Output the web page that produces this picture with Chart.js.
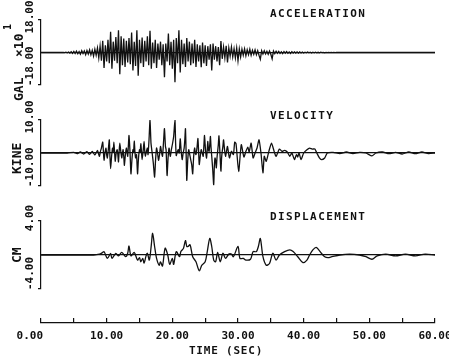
<!DOCTYPE html>
<html><head><meta charset="utf-8">
<script src="https://cdn.jsdelivr.net/npm/chart.js@4.4.0/dist/chart.umd.min.js"></script>
<style>
html,body{margin:0;padding:0;background:#fff;}
#wrap{position:relative;width:449px;height:363px;overflow:hidden;}
canvas{position:absolute;left:0;top:0;}
</style></head><body>
<div id="wrap">
<canvas id="cAcc" width="449" height="363"></canvas>
<canvas id="cVel" width="449" height="363"></canvas>
<canvas id="cDis" width="449" height="363"></canvas>
<canvas id="cAxis" width="449" height="363"></canvas>
</div>
<script>
// ---------- shared time axis ----------
const timeMin = 0, timeMax = 60;
const timeTickValues = [0,5,10,15,20,25,30,35,40,45,50,55,60];
const timeLabelValues = [0,10,20,30,40,50,60];
const timeLabels = ['0.00','10.00','20.00','30.00','40.00','50.00','60.00'];
const timeTitle = 'TIME (SEC)';

// ---------- acceleration (GAL x10^1), sampled every 0.2 s from 0 to 60 s ----------
const accStart = 0, accStep = 0.2;
const accValues = [
  0,0,0,0,0, 0,0,0,0,0, 0,0,0,0,0, 0,0,0.1,-0.1,0.2, -0.2,0.3,-0.3,0.4,-0.5,
  0.6,-0.5,0.8,-0.7,0.5, -0.9,1.0,-0.6,0.9,-1.2, 1.1,-0.8,1.5,-1.3,1.2, -2.0,1.8,-1.5,2.5,-3.0, 3.5,-4.5,6.5,-8.6,4.0,
  -5.0,7.0,-6.0,11.5,-9.0, 6.0,-4.5,8.5,-6.0,12.3, -12.0,9.0,-7.0,7.7,-8.0, 6.5,-5.5,8.0,-6.5,11.0, -10.0,6.0,-7.5,12.3,-12.8,
  7.0,-6.0,8.3,-8.0,6.5, -5.0,9.0,-7.0,12.0,-9.0, 5.5,-6.0,7.0,-8.5,5.0, -4.0,6.0,-7.0,4.5,-13.7, 5.0,-5.0,10.5,-7.0,6.0,
  -9.0,7.0,-16.5,8.0,-6.0, 12.3,-11.0,7.0,-6.5,5.0, -8.0,8.0,-5.0,6.0,-7.0, 5.0,-6.0,7.0,-8.0,4.5, -5.0,4.0,-8.2,5.5,-6.0,
  4.0,-7.5,3.5,-4.0,4.5, -10.0,5.0,-4.0,3.5,-5.0, 3.0,-7.0,6.4,-3.5,3.0, -3.0,3.7,-5.5,2.5,-2.0, 3.0,-2.5,2.0,-3.0,2.5,
  -4.5,2.0,-2.5,1.8,-1.5, 2.0,-1.8,1.5,-1.2,1.8, -1.5,1.2,-1.0,1.5,-1.2, 1.0,-1.5,-3.7,1.0,-0.8, 1.0,-0.8,0.7,-1.0,0.8,
  -1.0,-3.5,0.8,-0.6,0.7, -0.5,0.6,-0.5,0.4,-0.6, 0.5,-0.4,0.5,-0.4,0.3, -0.5,0.4,-0.3,0.4,-0.3, 0.3,-0.4,0.3,-0.3,0.2,
  -0.3,0.2,-0.2,0.3,-0.2, 0.2,-0.3,0.2,-0.2,0.2, -0.2,0.1,-0.2,0.2,-0.1, 0.1,-0.2,0.1,-0.1,0.1, -0.1,0.1,-0.1,0.1,-0.1,
  0,0,0,0,0, 0,0,0,0,0, 0,0,0,0,0, 0,0,0,0,0, 0,0,0,0,0,
  0,0,0,0,0, 0,0,0,0,0, 0,0,0,0,0, 0,0,0,0,0, 0,0,0,0,0,
  0,0,0,0,0, 0,0,0,0,0, 0,0,0,0,0, 0,0,0,0,0, 0,0,0,0,0,
  0
];
const accTicks = [-18, 0, 18];
const accLabelValues = [-18, 18];
const accLabelText = ['-18.00', '18.00'];
const accTitle = 'ACCELERATION';

// ---------- velocity (KINE) ----------
const velTime = [0,4,5,5.5,6,6.5,7,7.4,7.8,8.2,
  8.6,8.8,8.9,9.05,9.2,9.4,9.5,9.6,9.75,9.9,10.0,10.1,10.25,10.4,10.5,10.6,10.75,10.9,11.0,11.1,
  11.2,11.3,11.45,11.6,11.7,11.8,11.9,12.0,12.15,12.3,12.4,12.5,12.6,12.7,12.85,13.0,13.1,13.2,13.3,13.4,
  13.55,13.7,13.85,14.0,14.1,14.2,14.3,14.4,14.55,14.7,14.85,15.0,15.1,15.2,15.3,15.4,15.55,15.7,15.8,15.9,
  16.05,16.2,16.3,16.45,16.6,16.75,16.9,17.1,17.3,17.45,17.6,17.75,17.9,18.05,18.2,18.35,18.5,18.65,18.8,18.95,
  19.05,19.2,19.35,19.5,19.6,19.7,19.85,20.0,20.2,20.4,20.5,20.6,20.75,20.9,21.05,21.2,21.35,21.5,21.65,21.8,
  21.9,22.0,22.1,22.2,22.35,22.5,22.65,22.8,22.95,23.1,23.25,23.4,23.5,23.6,23.75,23.9,24.0,24.1,24.25,24.4,
  24.55,24.7,24.8,24.9,25.05,25.2,25.3,25.4,25.5,25.6,25.7,25.8,25.9,26.0,26.15,26.3,26.4,26.5,26.6,26.7,
  26.8,26.9,27.0,27.1,27.25,27.4,27.5,27.6,27.7,27.8,27.95,28.1,28.25,28.4,
  28.7,29.0,29.3,29.5,29.7,30.1,30.5,30.9,31.2,31.5,31.7,
  32.0,32.3,32.6,32.9,33.2,33.5,33.8,34.0,34.3,34.7,35.1,35.5,35.8,36.3,36.7,37.1,37.5,37.9,38.2,38.6,
  38.9,39.1,39.3,39.6,40.0,40.5,40.9,41.3,41.7,42.0,42.4,42.7,43.2,43.6,44.5,45.5,46.5,47.5,48.5,49.5,
  50.4,51.0,52.0,53.0,54.0,55.0,56.0,57.0,58.0,59.0,60.0];
const velValues = [0,0,0.2,-0.2,0.3,-0.3,0.4,-0.4,0.5,-0.6,
  0.8,-0.5,-1.0,0.5,1.5,3.3,0.5,-2.2,0.2,1.5,-0.5,-1.5,1.0,4.0,-1.0,-4.7,-1.0,1.5,0.5,3.3,
  0.5,-2.5,0.0,1.0,-0.5,-2.7,0.5,3.0,0.5,-1.5,0.0,1.0,-1.0,-3.7,-0.5,1.5,0.3,-1.0,2.0,5.3,
  0.5,-6.3,-2.0,1.0,0.3,3.6,0.5,-1.5,-0.5,-6.3,-1.5,1.0,0.3,2.8,0.5,-2.0,0.5,3.5,0.5,-1.0,
  0.5,1.5,-0.5,4.0,9.9,3.0,0.5,-3.0,-7.3,-2.0,1.5,0.0,-2.2,-0.5,2.0,0.3,-1.0,3.0,7.4,2.0,
  1.0,-6.8,-1.5,1.5,0.0,-1.0,1.0,2.5,5.0,10.0,3.0,-0.8,0.3,1.0,0.0,4.3,0.5,-2.0,0.0,1.5,
  4.0,7.4,0.0,-8.3,-2.0,1.0,-0.5,-2.0,-3.5,-6.3,-1.0,1.5,0.0,-0.5,1.5,4.4,0.5,-3.5,-1.0,1.0,
  0.0,-1.0,2.0,5.3,1.0,-1.5,0.5,3.5,1.0,0.5,2.5,5.0,1.5,-1.0,-5.0,-9.6,-4.0,-1.5,-2.5,-4.5,
  -1.5,0.5,2.5,5.2,0.0,-5.5,-1.5,0.5,2.0,4.0,1.0,-1.0,0.5,2.0,
  -1.5,0.5,-0.5,3.3,2.8,-5.6,2.5,-1.2,0.5,1.8,0.3,
  3.0,-1.5,0.0,1.5,4.0,0.0,-6.0,-1.0,-2.5,0.5,3.0,0.5,-1.0,1.2,0.5,0.8,0.3,-1.0,0.0,-2.0,
  -0.5,-1.2,0.0,-2.0,0.0,1.0,1.5,1.2,1.2,0.0,-1.5,-2.0,-1.5,0.0,0.2,-0.2,0.3,-0.2,0.2,0.0,
  -0.9,0.0,0.3,-0.2,0.2,-0.3,0.3,-0.2,0.3,-0.2,0.0];
const velTicks = [-10, 0, 10];
const velLabelValues = [-10, 10];
const velLabelText = ['-10.00', '10.00'];
const velTitle = 'VELOCITY';

// ---------- displacement (CM) ----------
const disTime = [0,5,8,8.9,9.3,9.6,10.1,10.6,10.8,11.4,11.8,12.3,12.9,13.2,13.4,13.7,14.2,14.7,15.0,15.2,
  15.5,15.7,16.0,16.2,16.5,16.8,17.0,17.3,17.6,18.0,18.2,18.5,18.9,19.3,19.6,20.0,20.2,20.6,21.1,21.3,
  21.7,22.0,22.2,22.4,22.7,23.1,23.6,24.1,24.5,25.0,25.3,25.7,26.0,26.3,26.6,26.9,27.3,27.7,28.1,28.6,
  29.0,29.3,30.0,30.3,30.8,31.2,31.9,32.3,32.8,33.1,33.4,33.8,34.3,34.8,35.3,35.8,36.3,37.1,37.9,38.4,
  39.1,39.9,40.5,40.9,41.4,41.9,42.3,42.7,43.2,43.7,44.3,45.5,47.0,48.5,49.5,50.4,51.2,52.5,54.0,55.5,
  57.0,58.5,60.0];
const disValues = [0,0,0,0.1,0.25,0.4,-0.4,0.2,-0.4,0.2,-0.1,0.3,-0.2,0.2,1.05,-0.1,0.3,-0.6,-0.3,-0.8,
  -0.4,-0.95,-0.1,0.2,-0.6,1.2,2.55,1.0,-0.4,-1.2,-0.8,-1.3,0.8,0.0,-1.1,-0.4,-1.1,0.4,-0.2,0.4,
  0.8,1.7,1.0,1.0,1.2,-0.2,-0.8,-1.85,-1.2,-0.8,0.3,1.95,1.0,-0.6,-0.8,0.3,-0.8,0.2,-0.4,0.1,
  0.1,-0.2,1.0,-0.4,-0.4,-0.6,-0.5,0.4,0.4,1.0,1.95,-0.2,-1.2,-1.0,0.2,-0.6,0.0,0.4,0.6,0.4,
  -0.2,-0.9,-0.6,0.0,0.6,0.9,0.6,0.2,-0.2,-0.3,-0.2,0.0,0.1,0.0,-0.2,-0.5,-0.1,0.1,-0.1,0.1,
  -0.1,0.1,0];
const disTicks = [-4, 0, 4];
const disLabelValues = [-4, 4];
const disLabelText = ['-4.00', '4.00'];
const disTitle = 'DISPLACEMENT';

// ---------- drawing ----------
const FONT = '"DejaVu Sans Mono", "Liberation Mono", monospace';
const INK = '#111';

function panelPlugin(p) {
  return {
    id: 'panelText',
    afterDraw(chart) {
      const ctx = chart.ctx, ys = chart.scales.y;
      ctx.save();
      ctx.fillStyle = INK;
      ctx.textBaseline = 'middle';
      ctx.font = 'bold 11px ' + FONT;
      ctx.letterSpacing = '1.4px';
      ctx.textAlign = 'left';
      ctx.fillText(p.title, 270, p.titleY);
      ctx.letterSpacing = '0px';
      p.labelValues.forEach((v, i) => {
        const py = ys.getPixelForValue(v);
        ctx.save();
        ctx.translate(30, v > 0 ? py - 3 : py + 1);
        ctx.rotate(-Math.PI / 2);
        ctx.textAlign = v > 0 ? 'center' : 'left';
        ctx.font = 'bold 11px ' + FONT;
        ctx.fillText(p.labelText[i], 0, 0);
        ctx.restore();
      });
      p.unit.forEach(u => {
        ctx.save();
        ctx.translate(u.x, u.y);
        ctx.rotate(-Math.PI / 2);
        ctx.textAlign = 'left';
        ctx.font = 'bold ' + u.size + 'px ' + FONT;
        ctx.fillText(u.text, 0, 0);
        ctx.restore();
      });
      ctx.restore();
    }
  };
}

function panelChart(id, data, ticks, range, pad, plug, lw, tension) {
  return new Chart(document.getElementById(id), {
    type: 'line',
    data: { datasets: [{ data, borderColor: INK, borderWidth: lw, pointRadius: 0, tension, fill: false }] },
    options: {
      responsive: false, animation: false, events: [],
      layout: { padding: pad },
      plugins: { legend: { display: false }, tooltip: { enabled: false } },
      scales: {
        x: { type: 'linear', min: timeMin, max: timeMax, display: false },
        y: {
          type: 'linear', min: -range, max: range,
          afterBuildTicks: s => { s.ticks = ticks.map(v => ({ value: v })); },
          afterFit: s => { s.width = 0; },
          ticks: { display: false },
          border: { display: true, color: INK, width: 1.2 },
          grid: {
            drawOnChartArea: true, drawTicks: true, tickLength: 3,
            color: c => (c.tick && c.tick.value === 0) ? INK : 'rgba(0,0,0,0)',
            tickColor: c => (c.tick && c.tick.value === 0) ? 'rgba(0,0,0,0)' : INK,
            lineWidth: 1.2
          }
        }
      }
    },
    plugins: [plug]
  });
}

const accData = accValues.map((v, i) => ({ x: accStart + i * accStep, y: v }));
const velData = velTime.map((t, i) => ({ x: t, y: velValues[i] }));
const disData = disTime.map((t, i) => ({ x: t, y: disValues[i] }));

panelChart('cAcc', accData, accTicks, 18, { left: 41, right: 14, top: 20, bottom: 278 },
  panelPlugin({ title: accTitle, titleY: 14, labelValues: accLabelValues, labelText: accLabelText,
    unit: [{ text: 'GAL', x: 20, y: 101, size: 13 }, { text: '×10', x: 20, y: 57, size: 13 }, { text: '1', x: 8, y: 30, size: 10 }] }), 1.3, 0);
panelChart('cVel', velData, velTicks, 10, { left: 41, right: 14, top: 120, bottom: 177 },
  panelPlugin({ title: velTitle, titleY: 116, labelValues: velLabelValues, labelText: velLabelText,
    unit: [{ text: 'KINE', x: 18, y: 174, size: 13 }] }), 1.3, 0.2);
panelChart('cDis', disData, disTicks, 4, { left: 41, right: 14, top: 221, bottom: 74 },
  panelPlugin({ title: disTitle, titleY: 217, labelValues: disLabelValues, labelText: disLabelText,
    unit: [{ text: 'CM', x: 18, y: 263, size: 13 }] }), 1.3, 0.3);

// bottom time axis
new Chart(document.getElementById('cAxis'), {
  type: 'line',
  data: { datasets: [{ data: [] }] },
  options: {
    responsive: false, animation: false, events: [],
    layout: { padding: { left: 41, right: 14, top: 318, bottom: 40 } },
    plugins: { legend: { display: false }, tooltip: { enabled: false } },
    scales: {
      y: { display: false, min: 0, max: 1 },
      x: {
        type: 'linear', min: timeMin, max: timeMax, position: 'bottom',
        afterBuildTicks: s => { s.ticks = timeTickValues.map(v => ({ value: v })); },
        afterFit: s => { s.height = 0; s.paddingLeft = 0; s.paddingRight = 0; },
        ticks: { display: false },
        border: { display: true, color: INK, width: 1.2 },
        grid: { drawOnChartArea: true, drawTicks: false, color: INK, lineWidth: 1.2 }
      }
    }
  },
  plugins: [{
    id: 'axisText',
    afterDraw(chart) {
      const ctx = chart.ctx, xs = chart.scales.x;
      ctx.save();
      ctx.fillStyle = INK;
      ctx.textBaseline = 'middle';
      ctx.font = 'bold 11px ' + FONT;
      timeLabelValues.forEach((v, i) => {
        const px = xs.getPixelForValue(v);
        if (i === 0) { ctx.textAlign = 'right'; ctx.fillText(timeLabels[i], px + 2, 336); }
        else { ctx.textAlign = 'center'; ctx.fillText(timeLabels[i], px, 336); }
      });
      ctx.textAlign = 'center';
      ctx.letterSpacing = '0.8px';
      ctx.fillText(timeTitle, 226, 351);
      ctx.restore();
    }
  }]
});
</script>
</body></html>
